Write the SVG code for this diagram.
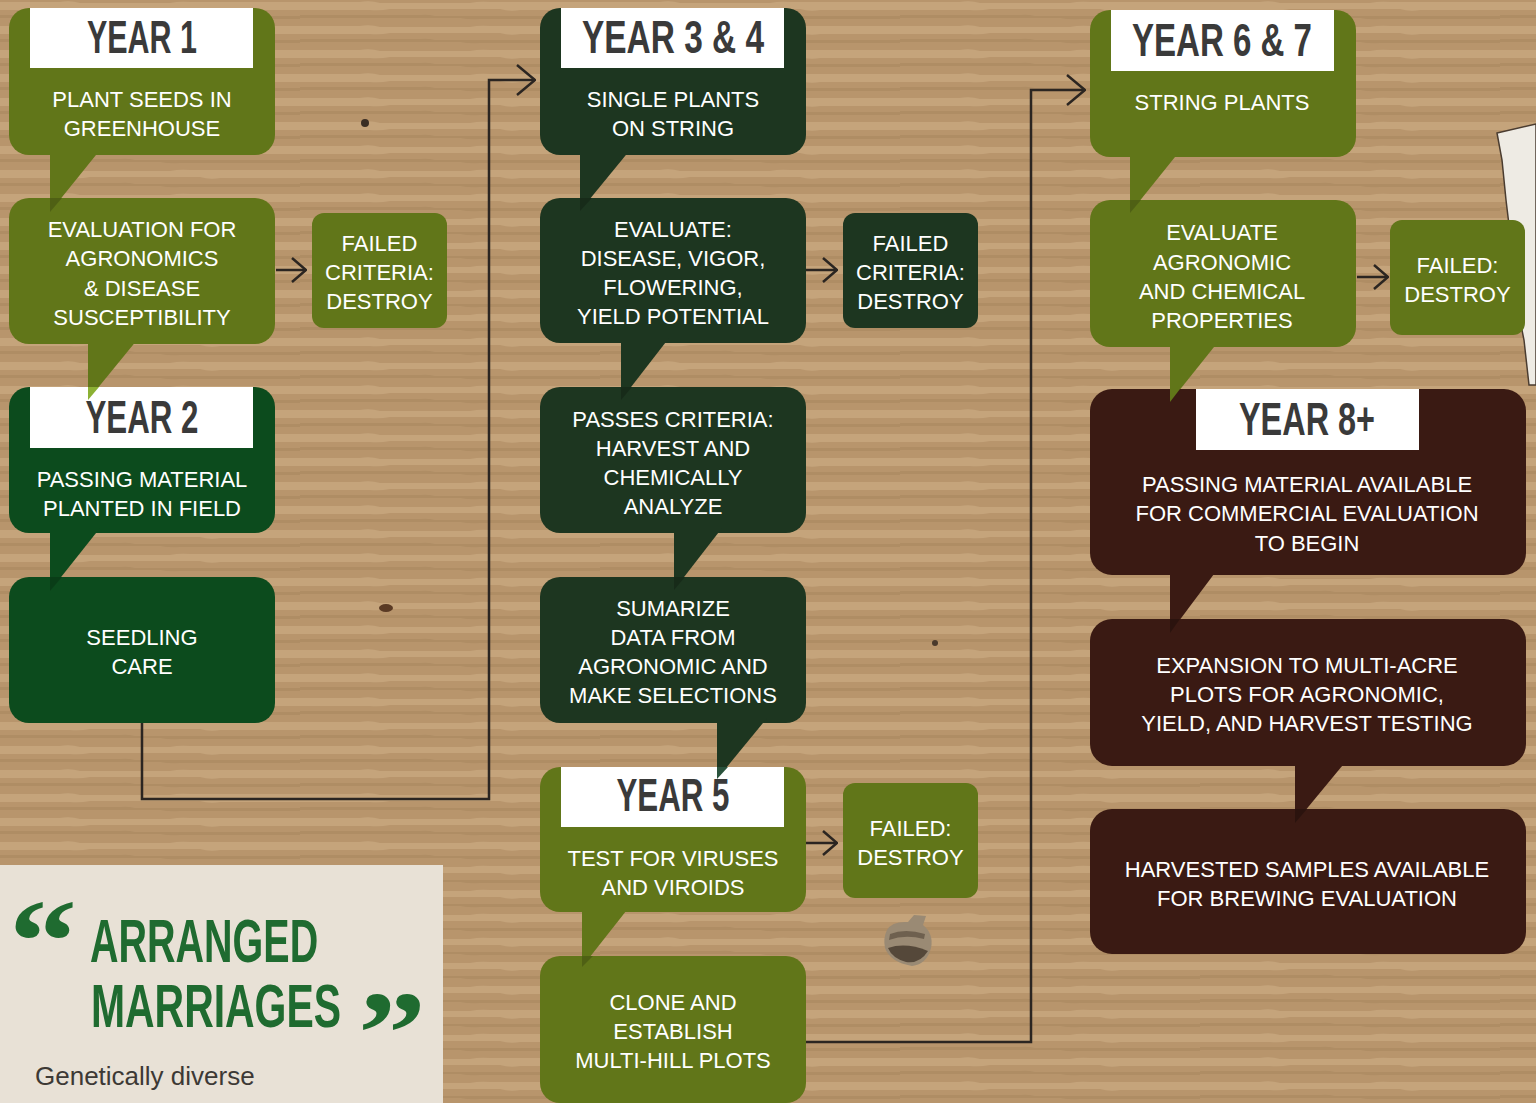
<svg xmlns="http://www.w3.org/2000/svg" width="1536" height="1103" viewBox="0 0 1536 1103">
<style>
.olive{fill:#617619}
.dkg{fill:#0c4b1d}
.vdg{fill:#1d3620}
.brn{fill:#3a1a13}
.lbl{fill:#ffffff}
.lt{font-family:"Liberation Sans",Arial,sans-serif;font-weight:bold;font-size:46px;fill:#3a3a3a;text-anchor:middle}
.bt{font-family:"Liberation Sans",Arial,sans-serif;font-size:22px;fill:#ffffff;text-anchor:middle}
.conn{fill:none;stroke:#2b2521;stroke-width:2.5}
.qt{font-family:"Liberation Sans",Arial,sans-serif;font-weight:bold;font-size:62px;fill:#1f6b30}
.qm{font-family:"Liberation Serif","Times New Roman",serif;font-weight:bold;font-size:118px;fill:#1f6b30}
</style>
<defs>
<pattern id="cb" width="300" height="24" patternUnits="userSpaceOnUse">
<rect width="300" height="24" fill="#b8956c"/>
<path d="M0,2 H60 Q70,0 80,3 H170 Q180,1 190,2 H300 V10 H220 Q210,12 200,9 H90 Q80,11 70,10 H0Z" fill="#c5a47b"/>
<path d="M0,15 H120 Q128,14 135,16 H300 V19 H180 Q170,20 160,18 H0Z" fill="#a9875f" opacity="0.6"/>
</pattern>
<marker id="big" viewBox="0 0 20 32" refX="19" refY="16" markerWidth="20" markerHeight="32" markerUnits="userSpaceOnUse" orient="auto">
<path d="M1,1 L19,16 L1,31" fill="none" stroke="#2b2521" stroke-width="2.5"/>
</marker>
<marker id="sm" viewBox="0 0 16 26" refX="15" refY="13" markerWidth="16" markerHeight="26" markerUnits="userSpaceOnUse" orient="auto">
<path d="M1,1 L15,13 L1,25" fill="none" stroke="#2b2521" stroke-width="2.5"/>
</marker>
</defs>

<g id="background">
<rect width="1536" height="1103" fill="url(#cb)"/>
<circle cx="365" cy="123" r="4" fill="#3a2e24"/>
<circle cx="935" cy="643" r="3" fill="#4a3a2c"/>
<ellipse cx="386" cy="608" rx="7" ry="4" fill="#5a3a24"/>
<path d="M1497,133 L1536,124 L1536,385 L1529,385 L1524,340 L1516,300 L1512,250 L1506,200 L1502,160Z" fill="#eeebe4" stroke="#4a3c30" stroke-width="1.5"/>
<path d="M887,930 Q892,921 908,922 L914,915 L926,916 L923,925 Q934,934 931,948 Q927,964 912,966 Q890,962 885,948 Q883,938 887,930Z" fill="#9a8a74"/>
<path d="M890,934 Q905,928 925,934 L924,939 Q905,934 889,940Z" fill="#6e604f"/>
<path d="M888,948 Q906,942 928,951 Q920,964 906,962 Q892,958 888,948Z" fill="#55483a"/>
</g>

<g id="quote-panel">
<rect x="0" y="865" width="443" height="238" fill="#e8e1d6"/>
<text class="qm" x="9" y="981" textLength="68" lengthAdjust="spacingAndGlyphs">“</text>
<text class="qt" transform="translate(90,962) scale(0.637,1)">ARRANGED</text>
<text class="qt" transform="translate(91,1027) scale(0.66,1)">MARRIAGES</text>
<text class="qm" x="358" y="1073" textLength="68" lengthAdjust="spacingAndGlyphs">”</text>
<text x="35" y="1085" font-family="'Liberation Sans',Arial,sans-serif" font-size="26" fill="#3d3935">Genetically diverse</text>
</g>

<g id="connectors">
<path class="conn" d="M142,723 V799 H489 V80 H535" marker-end="url(#big)"/>
<path class="conn" d="M806,1042 H1031 V90 H1085" marker-end="url(#big)"/>
<path class="conn" d="M276,270 H306" marker-end="url(#sm)"/>
<path class="conn" d="M806,270 H837" marker-end="url(#sm)"/>
<path class="conn" d="M806,843 H837" marker-end="url(#sm)"/>
<path class="conn" d="M1357,277 H1388" marker-end="url(#sm)"/>
</g>

<!-- Left column -->
<g id="year1">
<rect class="olive" x="9" y="8" width="266" height="147" rx="20"/>
<polygon class="olive" points="50,150 100,150 50,212"/>
<rect class="lbl" x="30" y="8" width="223" height="60"/>
<text class="lt" x="142" y="53" textLength="110" lengthAdjust="spacingAndGlyphs">YEAR 1</text>
<text class="bt" x="142" y="107">PLANT SEEDS IN</text>
<text class="bt" x="142" y="136">GREENHOUSE</text>
</g>
<g id="eval-agronomics">
<rect class="olive" x="9" y="198" width="266" height="146" rx="20"/>
<polygon class="olive" points="88,340 137,340 88,400"/>
<text class="bt" x="142" y="237">EVALUATION FOR</text>
<text class="bt" x="142" y="266">AGRONOMICS</text>
<text class="bt" x="142" y="296">&amp; DISEASE</text>
<text class="bt" x="142" y="325">SUSCEPTIBILITY</text>
</g>
<g id="failed-1">
<rect class="olive" x="312" y="213" width="135" height="115" rx="12"/>
<text class="bt" x="379.5" y="251">FAILED</text>
<text class="bt" x="379.5" y="280">CRITERIA:</text>
<text class="bt" x="379.5" y="309">DESTROY</text>
</g>
<g id="year2">
<rect class="dkg" x="9" y="387" width="266" height="146" rx="20"/>
<polygon class="dkg" points="50,528 100,528 50,591"/>
<rect class="lbl" x="30" y="387" width="223" height="61"/>
<text class="lt" x="142" y="433" textLength="113" lengthAdjust="spacingAndGlyphs">YEAR 2</text>
<text class="bt" x="142" y="487">PASSING MATERIAL</text>
<text class="bt" x="142" y="516">PLANTED IN FIELD</text>
</g>
<g id="seedling-care">
<rect class="dkg" x="9" y="577" width="266" height="146" rx="20"/>
<text class="bt" x="142" y="645">SEEDLING</text>
<text class="bt" x="142" y="674">CARE</text>
</g>

<!-- Middle column -->
<g id="year34">
<rect class="vdg" x="540" y="8" width="266" height="147" rx="20"/>
<polygon class="vdg" points="580,150 630,150 580,211"/>
<rect class="lbl" x="561" y="8" width="223" height="60"/>
<text class="lt" x="673" y="53" textLength="182" lengthAdjust="spacingAndGlyphs">YEAR 3 &amp; 4</text>
<text class="bt" x="673" y="107">SINGLE PLANTS</text>
<text class="bt" x="673" y="136">ON STRING</text>
</g>
<g id="evaluate-disease">
<rect class="vdg" x="540" y="198" width="266" height="145" rx="20"/>
<polygon class="vdg" points="621,338 669,338 621,400"/>
<text class="bt" x="673" y="237">EVALUATE:</text>
<text class="bt" x="673" y="266">DISEASE, VIGOR,</text>
<text class="bt" x="673" y="295">FLOWERING,</text>
<text class="bt" x="673" y="324">YIELD POTENTIAL</text>
</g>
<g id="failed-2">
<rect class="vdg" x="843" y="213" width="135" height="115" rx="12"/>
<text class="bt" x="910.5" y="251">FAILED</text>
<text class="bt" x="910.5" y="280">CRITERIA:</text>
<text class="bt" x="910.5" y="309">DESTROY</text>
</g>
<g id="passes-criteria">
<rect class="vdg" x="540" y="387" width="266" height="146" rx="20"/>
<polygon class="vdg" points="674,528 722,528 674,590"/>
<text class="bt" x="673" y="427">PASSES CRITERIA:</text>
<text class="bt" x="673" y="456">HARVEST AND</text>
<text class="bt" x="673" y="485">CHEMICALLY</text>
<text class="bt" x="673" y="514">ANALYZE</text>
</g>
<g id="summarize">
<rect class="vdg" x="540" y="577" width="266" height="146" rx="20"/>
<polygon class="vdg" points="717,718 767,718 717,779"/>
<text class="bt" x="673" y="616">SUMARIZE</text>
<text class="bt" x="673" y="645">DATA FROM</text>
<text class="bt" x="673" y="674">AGRONOMIC AND</text>
<text class="bt" x="673" y="703">MAKE SELECTIONS</text>
</g>
<g id="year5">
<rect class="olive" x="540" y="767" width="266" height="145" rx="20"/>
<polygon class="olive" points="582,906 630,906 582,967"/>
<rect class="lbl" x="561" y="767" width="223" height="60"/>
<text class="lt" x="673" y="811" textLength="113" lengthAdjust="spacingAndGlyphs">YEAR 5</text>
<text class="bt" x="673" y="866">TEST FOR VIRUSES</text>
<text class="bt" x="673" y="895">AND VIROIDS</text>
</g>
<g id="failed-3">
<rect class="olive" x="843" y="783" width="135" height="115" rx="12"/>
<text class="bt" x="910.5" y="836">FAILED:</text>
<text class="bt" x="910.5" y="865">DESTROY</text>
</g>
<g id="clone">
<rect class="olive" x="540" y="956" width="266" height="147" rx="20"/>
<text class="bt" x="673" y="1010">CLONE AND</text>
<text class="bt" x="673" y="1039">ESTABLISH</text>
<text class="bt" x="673" y="1068">MULTI-HILL PLOTS</text>
</g>

<!-- Right column -->
<g id="year67">
<rect class="olive" x="1090" y="10" width="266" height="147" rx="20"/>
<polygon class="olive" points="1130,152 1179,152 1130,213"/>
<rect class="lbl" x="1111" y="10" width="223" height="61"/>
<text class="lt" x="1222" y="56" textLength="180" lengthAdjust="spacingAndGlyphs">YEAR 6 &amp; 7</text>
<text class="bt" x="1222" y="110">STRING PLANTS</text>
</g>
<g id="evaluate-chemical">
<rect class="olive" x="1090" y="200" width="266" height="147" rx="20"/>
<polygon class="olive" points="1170,342 1218,342 1170,402"/>
<text class="bt" x="1222" y="240">EVALUATE</text>
<text class="bt" x="1222" y="270">AGRONOMIC</text>
<text class="bt" x="1222" y="299">AND CHEMICAL</text>
<text class="bt" x="1222" y="328">PROPERTIES</text>
</g>
<g id="failed-4">
<rect class="olive" x="1390" y="220" width="135" height="115" rx="12"/>
<text class="bt" x="1457.5" y="273">FAILED:</text>
<text class="bt" x="1457.5" y="302">DESTROY</text>
</g>
<g id="year8">
<rect class="brn" x="1090" y="389" width="436" height="186" rx="22"/>
<polygon class="brn" points="1170,570 1217,570 1170,633"/>
<rect class="lbl" x="1196" y="389" width="223" height="61"/>
<text class="lt" x="1307" y="435" textLength="136" lengthAdjust="spacingAndGlyphs">YEAR 8+</text>
<text class="bt" x="1307" y="492">PASSING MATERIAL AVAILABLE</text>
<text class="bt" x="1307" y="521">FOR COMMERCIAL EVALUATION</text>
<text class="bt" x="1307" y="551">TO BEGIN</text>
</g>
<g id="expansion">
<rect class="brn" x="1090" y="619" width="436" height="147" rx="22"/>
<polygon class="brn" points="1295,760 1347,760 1295,823"/>
<text class="bt" x="1307" y="673">EXPANSION TO MULTI-ACRE</text>
<text class="bt" x="1307" y="702">PLOTS FOR AGRONOMIC,</text>
<text class="bt" x="1307" y="731">YIELD, AND HARVEST TESTING</text>
</g>
<g id="harvested">
<rect class="brn" x="1090" y="809" width="436" height="145" rx="22"/>
<text class="bt" x="1307" y="877">HARVESTED SAMPLES AVAILABLE</text>
<text class="bt" x="1307" y="906">FOR BREWING EVALUATION</text>
</g>

<g id="tail-overlaps">
<polygon points="50,198 62,198 50,212" fill="#000" opacity="0.18"/>
<polygon points="88,387 99,387 88,400" fill="#7fa81e" opacity="0.9"/>
<polygon points="50,577 62,577 50,591" fill="#000" opacity="0.18"/>
<polygon points="580,198 592,198 580,211" fill="#000" opacity="0.2"/>
<polygon points="621,387 632,387 621,400" fill="#000" opacity="0.2"/>
<polygon points="674,577 685,577 674,590" fill="#000" opacity="0.2"/>
<polygon points="717,767 728,767 717,779" fill="#1f4a33" opacity="0.95"/>
<polygon points="582,956 593,956 582,967" fill="#000" opacity="0.18"/>
<polygon points="1130,200 1141,200 1130,213" fill="#000" opacity="0.18"/>
<polygon points="1170,389 1180,389 1170,402" fill="#617619"/>
<polygon points="1170,619 1180,619 1170,633" fill="#000" opacity="0.25"/>
<polygon points="1295,809 1307,809 1295,823" fill="#000" opacity="0.25"/>
</g>
</svg>
